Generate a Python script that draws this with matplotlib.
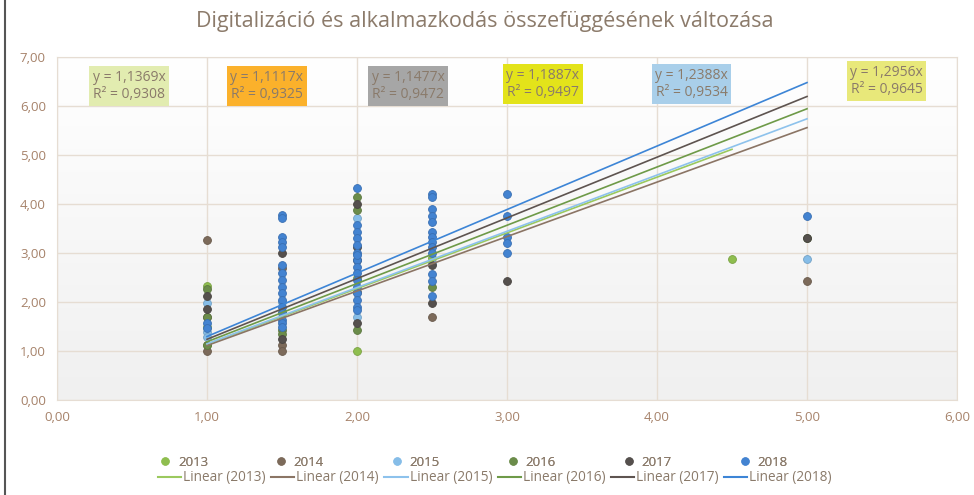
import numpy as np
import matplotlib
matplotlib.use("Agg")
import matplotlib.pyplot as plt
from matplotlib.lines import Line2D

plt.rcParams['font.family'] = ['Open Sans', 'DejaVu Sans']

years = ["2013", "2014", "2015", "2016", "2017", "2018"]

x_2013 = [1, 1, 1, 1.5, 2, 2, 2.5, 4.5]
y_2013 = [2.33, 1.50, 1.12, 1.80, 2.50, 1.00, 2.90, 2.88]

x_2014 = [1, 1, 1, 1.5, 1.5, 1.5, 2, 2.5, 5]
y_2014 = [3.27, 1.70, 1.00, 2.69, 1.12, 1.00, 2.20, 1.69, 2.43]

x_2015 = [1, 1, 1, 1.5, 2, 2, 2.5, 5]
y_2015 = [1.98, 1.39, 1.29, 2.00, 3.71, 1.70, 2.80, 2.88]

x_2016 = [1, 1, 1, 1.5, 1.5, 2, 2, 2, 2.5, 5]
y_2016 = [2.27, 1.70, 1.12, 1.43, 1.35, 4.14, 3.88, 1.43, 2.31, 3.31]

x_2017 = [1, 1, 1.5, 1.5, 2, 2, 2, 2, 2.5, 2.5, 3, 5]
y_2017 = [2.12, 1.85, 3.00, 1.24, 4.00, 3.12, 2.86, 1.57, 2.76, 1.98, 2.43, 3.31]

x_2018 = ([1, 1]
          + [1.5] * 16
          + [2] * 16
          + [2.5] * 13
          + [3] * 5
          + [5])
y_2018 = ([1.57, 1.47]
          + [3.77, 3.71, 3.33, 3.23, 3.13, 2.76, 2.59, 2.45, 2.31, 2.18, 2.04, 1.90, 1.77, 1.63, 1.57, 1.50]
          + [4.33, 3.57, 3.43, 3.31, 3.16, 3.00, 2.86, 2.71, 2.59, 2.45, 2.31, 2.18, 2.04, 1.90, 1.84, 2.95]
          + [4.20, 4.14, 3.90, 3.76, 3.64, 3.43, 3.33, 3.22, 3.12, 3.00, 2.57, 2.43, 2.12]
          + [4.20, 3.76, 3.33, 3.20, 3.00]
          + [3.75])

slopes = [1.1369, 1.1117, 1.1477, 1.1887, 1.2388, 1.2956]
r2 = ["0,9308", "0,9325", "0,9472", "0,9497", "0,9534", "0,9645"]
slope_txt = ["1,1369", "1,1117", "1,1477", "1,1887", "1,2388", "1,2956"]

xs = [x_2013, x_2014, x_2015, x_2016, x_2017, x_2018]
ys = [y_2013, y_2014, y_2015, y_2016, y_2017, y_2018]

marker_colors = ["#8FBE4F", "#7C6A5A", "#86BDE8", "#6B8C4A", "#55504D", "#4383D1"]
line_colors = ["#9BC95E", "#8B7565", "#8DC2EC", "#6E9A48", "#5E5450", "#3D85D6"]
box_colors = ["#E2ECB0", "#FBB12B", "#A6A6A6", "#E3E31A", "#A9CFEA", "#E8E87A"]
box_pos = [(0.48, 6.41), (1.40, 6.41), (2.34, 6.41), (3.24, 6.45), (4.23, 6.45), (5.53, 6.51)]

txt_col = "#8A7A6A"
tick_col = "#A6826A"
grid_col = "#E6DDD3"

fig = plt.figure(figsize=(9.74, 4.95), dpi=100)
ax = fig.add_axes([57/974, 1-400/495, 900/974, 343/495])

# subtle background gradient
grad = np.linspace(0, 1, 256).reshape(-1, 1)
ax.imshow(grad, extent=[0, 6, 0, 7], aspect='auto', origin='upper',
          cmap=matplotlib.colors.LinearSegmentedColormap.from_list("g", ["#FFFFFF", "#F0F0F0"]),
          zorder=0)

ax.set_xlim(0, 6)
ax.set_ylim(0, 7)
ax.set_xticks(np.arange(0, 7, 1))
ax.set_yticks(np.arange(0, 8, 1))
ax.set_xticklabels([f"{v:.2f}".replace(".", ",") for v in range(0, 7)])
ax.set_yticklabels([f"{v:.2f}".replace(".", ",") for v in range(0, 8)])
ax.tick_params(colors=tick_col, labelsize=9.5, length=0, pad=8)
for lbl in ax.get_xticklabels() + ax.get_yticklabels():
    lbl.set_color(tick_col)
ax.grid(True, color=grid_col, linewidth=1.0, zorder=1)
for s in ax.spines.values():
    s.set_color(grid_col)

for i in range(6):
    ax.scatter(xs[i], ys[i], s=32, color=marker_colors[i],
               edgecolors=matplotlib.colors.to_hex(np.array(matplotlib.colors.to_rgb(marker_colors[i])) * 0.85),
               linewidths=0.6, zorder=3 + i)

for i in range(6):
    x0, x1 = min(xs[i]), max(xs[i])
    xx = np.array([x0, x1])
    ax.plot(xx, slopes[i] * xx, color=line_colors[i], linewidth=1.2, zorder=10 + i)

for i in range(6):
    ax.text(box_pos[i][0], box_pos[i][1], f"y = {slope_txt[i]}x\nR² = {r2[i]}",
            ha='center', va='center', fontsize=10, color=txt_col, linespacing=1.25,
            bbox=dict(boxstyle='square,pad=0.25', facecolor=box_colors[i], edgecolor='none'),
            zorder=20)

fig.text(485/974, 1-22/495, "Digitalizáció és alkalmazkodás összefüggésének változása",
         ha='center', va='center', fontsize=15.5, color="#8C7B6B")

# legends
h1 = [Line2D([], [], marker='o', linestyle='none', markersize=5, color=marker_colors[i],
             markeredgecolor=marker_colors[i]) for i in range(6)]
leg1 = fig.legend(h1, years, loc='center', bbox_to_anchor=(473/974, 1-462/495), ncol=6,
                  frameon=False, fontsize=9.5, labelcolor=txt_col, columnspacing=5.0,
                  handlelength=1.0, handletextpad=0.5)
h2 = [Line2D([], [], color=line_colors[i], linewidth=1.5) for i in range(6)]
leg2 = fig.legend(h2, [f"Linear ({y})" for y in years], loc='center',
                  bbox_to_anchor=(495/974, 1-478/495), ncol=6, frameon=False, fontsize=9.8,
                  labelcolor=txt_col, columnspacing=0.4, handlelength=1.7, handletextpad=0.15)
fig.add_artist(leg1)

# page border line at left
fig.add_artist(Line2D([5/974, 5/974], [0, 1], color="#555555", linewidth=1.5, transform=fig.transFigure))

fig.savefig("out.png", dpi=100)
